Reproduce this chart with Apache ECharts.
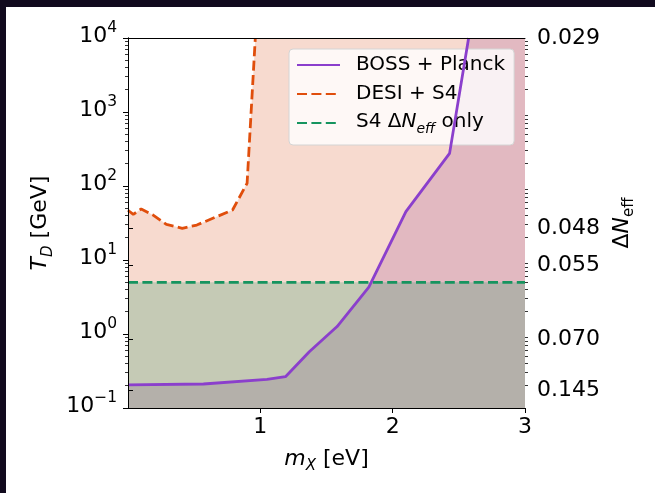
<!DOCTYPE html>
<html><head><meta charset="utf-8">
<script src="https://cdn.jsdelivr.net/npm/echarts@6/dist/echarts.min.js"></script>
<style>
html,body{margin:0;padding:0;background:#110a1e;width:655px;height:493px;overflow:hidden}
#c{position:absolute;left:6px;top:7px;width:649px;height:486px;background:#fff}
</style></head><body><div id="c"></div>
<script>
// ---- data ----
const bossM = [0, 0.57, 1.05, 1.19, 1.37, 1.58, 1.82, 2.10, 2.43, 2.574];
const bossT = [0.205, 0.211, 0.244, 0.265, 0.575, 1.26, 4.3, 45, 276, 10000];
const desiM = [0, 0.04, 0.10, 0.19, 0.29, 0.41, 0.52, 0.67, 0.79, 0.90, 0.962];
const desiT = [47, 41.4, 49, 40.5, 30.3, 26.8, 29.7, 38.5, 47.4, 109, 10000];
const s4M = [0, 3];
const s4T = [5, 5];
const xTicks = [1, 2, 3];
const leftTickT = [0.1, 1, 10, 100, 1000, 10000];
const rightTickT = [10000, 27.1, 8.56, 0.843, 0.175];
const rightTickLabels = ['0.029', '0.048', '0.055', '0.070', '0.145'];
const seriesNames = ['BOSS + Planck', 'DESI + S4', 'S4 ΔN_eff only'];

const FONT = 'DejaVu Sans';
const FS = 22;
const minorT = [];
for (let k = -1; k <= 3; k++) for (let m = 2; m <= 9; m++) minorT.push(m * Math.pow(10, k));
const pairs = (m, t) => m.map((v, i) => [v, t[i]]);

const blackLine = { show: true, lineStyle: { color: '#000', width: 1 } };
const minorAxis = (pos) => ({
  type: 'log', logBase: 10, min: 0.1, max: 10000, position: pos, z: 10,
  axisLine: { show: false },
  axisTick: { show: true, customValues: minorT, length: 3, lineStyle: { color: '#000', width: 0.8 } },
  axisLabel: { show: false }, splitLine: { show: false }
});
const nameRich = (subItalic) => ({
  i: { fontFamily: FONT, fontSize: FS, fontStyle: 'italic', color: '#000', verticalAlign: 'top', lineHeight: 25 },
  sub: { fontFamily: FONT, fontSize: 15, fontStyle: subItalic ? 'italic' : 'normal', color: '#000', verticalAlign: 'top', lineHeight: 15, padding: [11, 0, 0, 0] },
  r: { fontFamily: FONT, fontSize: FS, color: '#000', verticalAlign: 'top', lineHeight: 25 }
});

const chart = echarts.init(document.getElementById('c'));
chart.setOption({
  animation: false,
  backgroundColor: '#fff',
  grid: { left: 122, right: 130, top: 31, bottom: 85 },
  xAxis: [
    {
      type: 'value', min: 0, max: 3, interval: 1, position: 'bottom', z: 10,
      axisLine: blackLine,
      axisTick: { show: true, length: 5, lineStyle: { color: '#000', width: 1 }, customValues: xTicks },
      axisLabel: { customValues: xTicks, margin: 8, fontSize: FS, color: '#000', fontFamily: FONT },
      splitLine: { show: false },
      name: '{i|m}{sub|X}{r| [eV]}', nameLocation: 'middle', nameGap: 40,
      nameTextStyle: { fontFamily: FONT, fontSize: FS, color: '#000', rich: nameRich(true) }
    },
    {
      type: 'value', min: 0, max: 3, position: 'top', z: 10,
      axisLine: blackLine, axisTick: { show: false }, axisLabel: { show: false }, splitLine: { show: false }
    }
  ],
  yAxis: [
    {
      type: 'log', logBase: 10, min: 0.1, max: 10000, position: 'left', z: 10,
      axisLine: blackLine,
      axisTick: { show: true, customValues: leftTickT, length: 5, lineStyle: { color: '#000', width: 1 } },
      axisLabel: {
        customValues: leftTickT, margin: 11, padding: [0, 0, 4, 0],
        formatter: v => { const e = Math.round(Math.log10(v)); return '{b|10}{s|' + (e < 0 ? '\u2212' + (-e) : e) + '}'; },
        rich: {
          b: { fontFamily: FONT, fontSize: FS, color: '#000', lineHeight: 22, verticalAlign: 'bottom' },
          s: { fontFamily: FONT, fontSize: 15.5, color: '#000', lineHeight: 16, verticalAlign: 'bottom', padding: [0, 0, 11, 0] }
        }
      },
      splitLine: { show: false },
      name: '{i|T}{sub|D}{r| [GeV]}', nameLocation: 'middle', nameGap: 72,
      nameTextStyle: { fontFamily: FONT, fontSize: FS, color: '#000', rich: nameRich(true) }
    },
    {
      type: 'log', logBase: 10, min: 0.1, max: 10000, position: 'right', z: 10,
      axisLine: blackLine,
      axisTick: { show: true, customValues: rightTickT, length: 5, lineStyle: { color: '#000', width: 1 } },
      axisLabel: {
        customValues: rightTickT, margin: 12, fontFamily: FONT, fontSize: FS, color: '#000',
        formatter: v => {
          let best = 0;
          rightTickT.forEach((t, i) => { if (Math.abs(Math.log10(t) - Math.log10(v)) < Math.abs(Math.log10(rightTickT[best]) - Math.log10(v))) best = i; });
          return rightTickLabels[best];
        }
      },
      splitLine: { show: false },
      name: '{r|\u0394}{i|N}{sub|eff}', nameLocation: 'middle', nameGap: 80,
      nameTextStyle: { fontFamily: FONT, fontSize: FS, color: '#000', rich: nameRich(false) }
    },
    minorAxis('left'),
    minorAxis('right')
  ],
  legend: {
    data: seriesNames, orient: 'vertical', left: 283, top: 42,
    padding: [5, 9, 9, 7], itemWidth: 43, itemHeight: 14, itemGap: 7,
    backgroundColor: 'rgba(255,255,255,0.8)', borderColor: '#d4d4d4', borderWidth: 1, borderRadius: 4,
    itemStyle: { opacity: 0, color: 'transparent', borderColor: 'transparent', borderWidth: 0 },
    textStyle: {
      fontFamily: FONT, fontSize: 20, color: '#000', lineHeight: 22, padding: [0, 0, 0, 11],
      rich: {
        t: { fontFamily: FONT, fontSize: 20, color: '#000', lineHeight: 22, verticalAlign: 'top' },
        i: { fontFamily: FONT, fontSize: 20, fontStyle: 'italic', color: '#000', lineHeight: 22, verticalAlign: 'top' },
        sub: { fontFamily: FONT, fontSize: 14, fontStyle: 'italic', color: '#000', lineHeight: 14, verticalAlign: 'top', padding: [10, 0, 0, 0] }
      }
    },
    formatter: name => name === seriesNames[2] ? '{t|S4 \u0394}{i|N}{sub|eff}{t| only}' : name
  },
  series: [
    { name: 'desiFill', type: 'line', data: pairs(desiM, desiT).concat([[3, 10000]]), symbol: 'none', silent: true, z: 1,
      lineStyle: { width: 0, opacity: 0 }, areaStyle: { color: 'rgb(215,70,15)', opacity: 0.2, origin: 'start' } },
    { name: 'bossFill', type: 'line', data: pairs(bossM, bossT).concat([[3, 10000]]), symbol: 'none', silent: true, z: 1,
      lineStyle: { width: 0, opacity: 0 }, areaStyle: { color: 'rgb(147,53,142)', opacity: 0.2, origin: 'start' } },
    { name: 's4Fill', type: 'line', data: pairs(s4M, s4T), symbol: 'none', silent: true, z: 1,
      lineStyle: { width: 0, opacity: 0 }, areaStyle: { color: 'rgb(0,138,80)', opacity: 0.2, origin: 'start' } },
    { name: seriesNames[1], type: 'line', data: pairs(desiM, desiT), symbol: 'none', z: 3,
      itemStyle: { color: '#e04e0c' }, lineStyle: { color: '#e04e0c', width: 2.8, type: [10, 4.4] } },
    { name: seriesNames[2], type: 'line', data: pairs(s4M, s4T), symbol: 'none', z: 3,
      itemStyle: { color: '#16945f' }, lineStyle: { color: '#16945f', width: 2.8, type: [10, 4.4] } },
    { name: seriesNames[0], type: 'line', data: pairs(bossM, bossT), symbol: 'none', z: 4,
      itemStyle: { color: '#8b3fcc' }, lineStyle: { color: '#8b3fcc', width: 2.8 } }
  ]
});
</script></body></html>
